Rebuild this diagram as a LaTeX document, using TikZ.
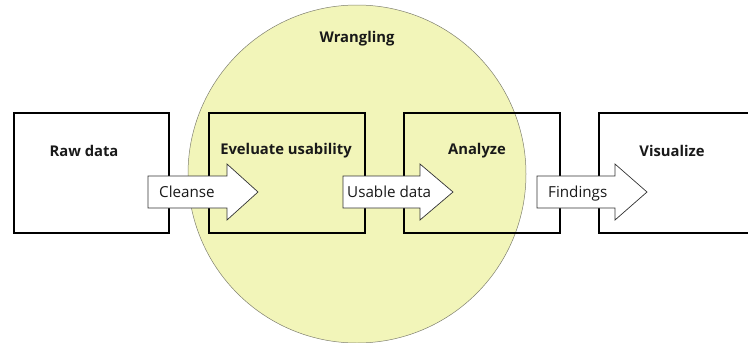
\documentclass[tikz,border=0pt]{standalone}
\usepackage{fontspec}
\setmainfont{Open Sans}
\definecolor{wrangfill}{HTML}{F2F5B9}
\definecolor{wrangline}{HTML}{808070}
\definecolor{arrline}{HTML}{333333}
\begin{document}
\begin{tikzpicture}[x=1pt,y=-1pt,
  stagebox/.style={draw=black,line width=1.6pt},
  stagelabel/.style={font=\fontsize{14.8}{17}\selectfont\bfseries,text=black!90},
  flowarrow/.style={draw=arrline,line width=0.7pt,fill=white,line join=miter},
  flowlabel/.style={font=\fontsize{15.2}{17}\selectfont,anchor=base west,inner sep=0pt,text=black!90}]
\useasboundingbox (0,0) rectangle (748,343);
\clip (0,0) rectangle (748,343);
% wrangling circle
\node[circle,draw=wrangline,line width=0.5pt,fill=wrangfill,minimum size=338pt,inner sep=0pt] (wrangle) at (357,174) {};
\node[stagelabel] (wlabel) at (357,39) {Wrangling};
% boxes
\node[stagebox,minimum width=155pt,minimum height=120pt,inner sep=0pt,anchor=north west] (raw) at (13,112) {};
\node[stagebox,minimum width=156pt,minimum height=120pt,inner sep=0pt,anchor=north west] (eval) at (208,112) {};
\node[stagebox,minimum width=156pt,minimum height=120pt,inner sep=0pt,anchor=north west] (anal) at (403,112) {};
\node[stagebox,minimum width=156pt,minimum height=120pt,inner sep=0pt,anchor=north west] (vis) at (598,112) {};
\node[stagelabel] (rawl) at (84,151) {Raw data};
\node[stagelabel] (evall) at (286,151) {Eveluate usability};
\node[stagelabel] (anall) at (477,151) {Analyze};
\node[stagelabel] (visl) at (672,151) {Visualize};
% arrows
\foreach \s/\h/\t/\nm in {148/227/258/a1, 343/420/453/a2, 537/615/647/a3}{
  \draw[flowarrow] (\s,176) -- (\h,176) -- (\h,164) -- (\t,192) -- (\h,220) -- (\h,208) -- (\s,208) -- cycle;
}
\node[flowlabel] (cl) at (159,197.5) {Cleanse};
\node[flowlabel] (ul) at (347,197.5) {Usable data};
\node[flowlabel] (fl) at (548,197.5) {Findings};
\end{tikzpicture}
\end{document}
